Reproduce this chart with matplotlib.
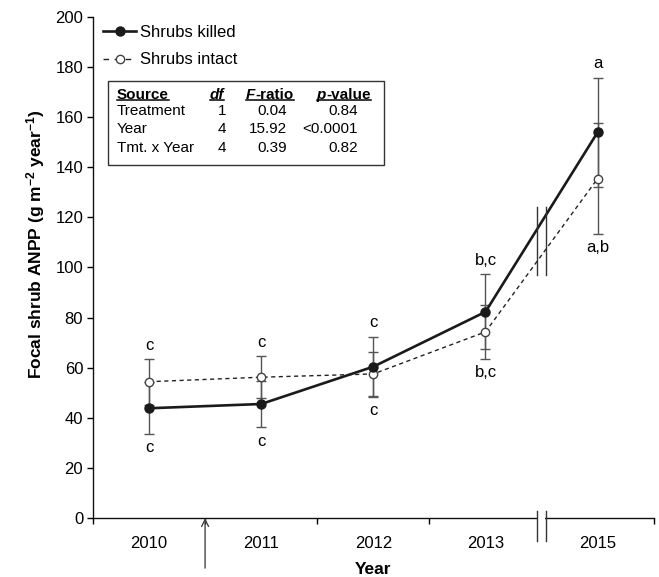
import matplotlib
matplotlib.use('Agg')
import matplotlib.pyplot as plt
import matplotlib.transforms as mtransforms
from matplotlib.lines import Line2D
from matplotlib.patches import Rectangle

# 資料
years = ['2010', '2011', '2012', '2013', '2015']
killed = [43.8, 45.5, 60.4, 82.3, 154]
killed_se = [10.3, 9.3, 12.0, 15.0, 21.8]
intact = [54.4, 56.2, 57.5, 74.3, 135.5]
intact_se = [9.1, 8.5, 8.8, 10.8, 22.0]
upper_letters = ['c', 'c', 'c', 'b,c', 'a']
lower_letters = ['c', 'c', 'c', 'b,c', 'a,b']

# ANOVA 表
sources = ['Treatment', 'Year', 'Tmt. x Year']
dfs = ['1', '4', '4']
f_ratios = ['0.04', '15.92', '0.39']
p_values = ['0.84', '<0.0001', '0.82']

plt.rcParams['font.family'] = ['Liberation Sans', 'DejaVu Sans']
plt.rcParams['mathtext.fontset'] = 'custom'
plt.rcParams['mathtext.rm'] = 'Liberation Sans:bold'
plt.rcParams['mathtext.bf'] = 'Liberation Sans:bold'
plt.rcParams['mathtext.it'] = 'Liberation Sans:italic'

fig = plt.figure(figsize=(6.59, 5.77), dpi=100)
ax = fig.add_axes([0.141, 0.1023, 0.851, 0.8682])
x = list(range(len(years)))

# 誤差線
ax.errorbar(x, intact, yerr=intact_se, fmt='none', ecolor='#555555',
            elinewidth=1, capsize=3.5, capthick=1, zorder=2)
ax.errorbar(x, killed, yerr=killed_se, fmt='none', ecolor='#555555',
            elinewidth=1, capsize=3.5, capthick=1, zorder=2)

# 折線
ax.plot(x, intact, color='#222222', lw=1, ls=(0, (3, 2.5)), marker='o', ms=6,
        mfc='white', mec='#444444', mew=1, zorder=3)
ax.plot(x, killed, color='#1a1a1a', lw=1.9, ls='-', marker='o', ms=6.5,
        mfc='#1a1a1a', mec='#1a1a1a', zorder=4)

# 字母標示
for i in x:
    top = max(killed[i] + killed_se[i], intact[i] + intact_se[i])
    bot = min(killed[i] - killed_se[i], intact[i] - intact_se[i])
    ax.text(i, top + 5.5, upper_letters[i], ha='center', va='center', fontsize=12)
    ax.text(i, bot - 5.5, lower_letters[i], ha='center', va='center', fontsize=12)

ax.set_xlim(-0.5, 4.5)
ax.set_ylim(0, 200)
ax.set_yticks(range(0, 201, 20))
ax.set_xticks([-0.5, 0.5, 1.5, 2.5, 4.5])
ax.set_xticklabels([])
ax.set_xticks(x, minor=True)
ax.set_xticklabels(years, minor=True)
ax.tick_params(axis='x', which='minor', length=0, pad=13, labelsize=12)
ax.tick_params(axis='x', which='major', length=4, width=1, direction='out')
ax.tick_params(axis='y', length=4, width=1, direction='out', pad=3, labelsize=12)

for s in ['top', 'right']:
    ax.spines[s].set_visible(False)
for s in ['left', 'bottom']:
    ax.spines[s].set_linewidth(1)
    ax.spines[s].set_color('#111111')

ax.set_xlabel('Year', fontsize=12.5, fontweight='bold', labelpad=8)
ax.set_ylabel(r'Focal shrub ANPP (g m$^{-2}$ year$^{-1}$)', fontsize=12.5,
              fontweight='bold')
ax.yaxis.set_label_coords(-0.081, 0.547)

# 斷軸符號
blend = mtransforms.blended_transform_factory(ax.transData, ax.transAxes)
ax.add_patch(Rectangle((3.465, -0.006), 0.07, 0.012, transform=blend,
                       facecolor='white', edgecolor='none', clip_on=False, zorder=5))
for bx in [3.46, 3.54]:
    ax.add_line(Line2D([bx, bx], [0.014, -0.046], transform=blend, color='#333333',
                       lw=1, clip_on=False, zorder=6))
    ax.add_line(Line2D([bx, bx], [97, 124], color='#333333', lw=1, zorder=6))

# 處理開始箭頭
ax.annotate('', xy=(0.5, 0), xycoords=blend, xytext=(0.5, -0.1), textcoords=blend,
            arrowprops=dict(arrowstyle='->,head_length=0.5,head_width=0.25',
                            color='#444444', lw=1, shrinkA=0, shrinkB=0),
            annotation_clip=False)

# 圖例
h1 = Line2D([], [], color='#1a1a1a', lw=1.9, marker='o', ms=6.5)
h2 = Line2D([], [], color='#222222', lw=1, ls=(0, (4, 4)), marker='o', ms=6,
            mfc='white', mec='#444444')
ax.legend([h1, h2], ['Shrubs killed', 'Shrubs intact'], loc='upper left',
          bbox_to_anchor=(0.006, 0.997), frameon=False, fontsize=12,
          handlelength=2.0, handletextpad=0.2, labelspacing=0.73, borderaxespad=0)

# ANOVA 表格
ax.add_patch(Rectangle((0.027, 0.704), 0.492, 0.168, transform=ax.transAxes,
                       facecolor='white', edgecolor='#333333', lw=1, zorder=5))
hy = 0.844
rows_y = [0.812, 0.776, 0.739]
tfs = 11
headers = []
t = ax.text(0.043, hy, 'Source', transform=ax.transAxes, fontsize=tfs,
            fontweight='bold', va='center', ha='left', zorder=6)
headers.append((t, t))
t = ax.text(0.221, hy, 'df', transform=ax.transAxes, fontsize=tfs, fontweight='bold',
            fontstyle='italic', va='center', ha='center', zorder=6)
headers.append((t, t))
t1 = ax.text(0.273, hy, 'F', transform=ax.transAxes, fontsize=tfs, fontweight='bold',
             fontstyle='italic', va='center', ha='left', zorder=6)
t2 = ax.annotate('-ratio', xy=(1, 0), xycoords=t1, va='bottom', ha='left',
                 fontsize=tfs, fontweight='bold', zorder=6)
headers.append((t1, t2))
t1 = ax.text(0.399, hy, 'p', transform=ax.transAxes, fontsize=tfs, fontweight='bold',
             fontstyle='italic', va='center', ha='left', zorder=6)
t2 = ax.annotate('-value', xy=(1, 0), xycoords=t1, va='bottom', ha='left',
                 fontsize=tfs, fontweight='bold', zorder=6)
headers.append((t1, t2))

for i in range(len(sources)):
    ax.text(0.043, rows_y[i], sources[i], transform=ax.transAxes, fontsize=tfs,
            va='center', ha='left', zorder=6)
    ax.text(0.230, rows_y[i], dfs[i], transform=ax.transAxes, fontsize=tfs,
            va='center', ha='center', zorder=6)
    ax.text(0.346, rows_y[i], f_ratios[i], transform=ax.transAxes, fontsize=tfs,
            va='center', ha='right', zorder=6)
    ax.text(0.472, rows_y[i], p_values[i], transform=ax.transAxes, fontsize=tfs,
            va='center', ha='right', zorder=6)

# 表頭底線
fig.canvas.draw()
r = fig.canvas.get_renderer()
inv = fig.transFigure.inverted()
for a, b in headers:
    ba = a.get_window_extent(r)
    bb = b.get_window_extent(r)
    x0, y0 = inv.transform((ba.x0, ba.y0 + 2.5))
    x1, _ = inv.transform((bb.x1, ba.y0))
    fig.add_artist(Line2D([x0, x1], [y0, y0], color='black', lw=1.1, zorder=7))

fig.savefig('out.png', dpi=100)
